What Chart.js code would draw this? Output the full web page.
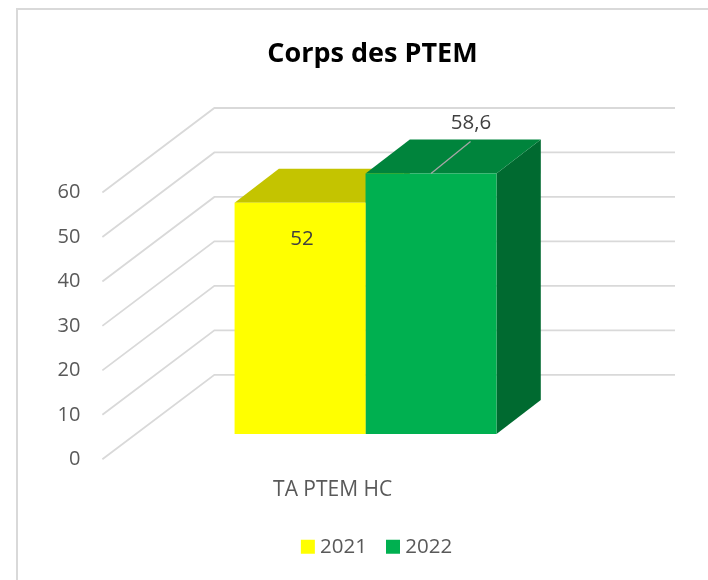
<!DOCTYPE html>
<html><head><meta charset="utf-8">
<style>html,body{margin:0;padding:0;background:#fff}#wrap{position:absolute;left:0;top:0;width:708px;height:580px}
#frame{position:absolute;left:16px;top:8px;width:700px;height:600px;border:2px solid #d9d9d9;box-sizing:border-box}
body{overflow:hidden}</style>
<script src="https://cdn.jsdelivr.net/npm/chart.js@4/dist/chart.umd.min.js"></script>
</head><body><div id="frame"></div><div id="wrap"><canvas id="c" width="708" height="580"></canvas></div>
<script>
const categories = ['TA PTEM HC'];
const series2021 = [52];
const series2022 = [58.6];
const seriesNames = ['2021', '2022'];
const yTicks = [0, 10, 20, 30, 40, 50, 60];
const FONT = '"Open Sans"';
const wallDepth = {x: 112, y: -84.5};
const barShift = {x: 32.85, y: -25.3};
const barDepth = {x: 44.3, y: -34};
const faces = [{top: '#C4C400', side: '#9C9C00'}, {top: '#00843C', side: '#006A30'}];
const fmt = v => String(v).replace('.', ',');

const poly = (ctx, pts, color) => {
  ctx.fillStyle = color; ctx.beginPath();
  pts.forEach((p, i) => i ? ctx.lineTo(p[0], p[1]) : ctx.moveTo(p[0], p[1]));
  ctx.closePath(); ctx.fill();
};

const scene = {
  id: 'scene',
  afterLayout(chart) {
    const shift = (b, d) => { b.left += d; b.right += d; };
    shift(chart.titleBlock, 73.25);
    shift(chart.legend, 79.75);
  },
  beforeDatasetsDraw(chart) {
    const {ctx, chartArea: a, scales: {y}} = chart;
    ctx.save();
    ctx.strokeStyle = '#d9d9d9'; ctx.lineWidth = 1.8;
    yTicks.forEach(t => {
      const py = y.getPixelForValue(t);
      ctx.beginPath();
      ctx.moveTo(a.left, py);
      ctx.lineTo(a.left + wallDepth.x, py + wallDepth.y);
      ctx.lineTo(a.right + wallDepth.x, py + wallDepth.y);
      ctx.stroke();
    });
    ctx.translate(barShift.x, barShift.y);
    chart.data.datasets.forEach((ds, i) => {
      const r = chart.getDatasetMeta(i).data[0];
      const L = r.x - r.width / 2, R = r.x + r.width / 2, T = r.y, B = r.base;
      const dx = barDepth.x, dy = barDepth.y;
      poly(ctx, [[R, T], [R + dx, T + dy], [R + dx, B + dy], [R, B]], faces[i].side);
      poly(ctx, [[L, T], [L + dx, T + dy], [R + dx, T + dy], [R, T]], faces[i].top);
    });
  },
  afterDatasetsDraw(chart) {
    const {ctx} = chart;
    const a = chart.getDatasetMeta(0).data[0], b = chart.getDatasetMeta(1).data[0];
    ctx.fillStyle = '#404040';
    ctx.font = '20.5px ' + FONT;
    ctx.textAlign = 'center'; ctx.textBaseline = 'middle';
    ctx.fillText(fmt(series2021[0]), a.x + 2, a.y + 36);
    ctx.strokeStyle = '#a6a6a6'; ctx.lineWidth = 1.3;
    ctx.beginPath(); ctx.moveTo(b.x, b.y); ctx.lineTo(b.x + 39.5, b.y - 32); ctx.stroke();
    ctx.fillText(fmt(series2022[0]), b.x + 40, b.y - 50);
    ctx.restore();
  }
};

new Chart(document.getElementById('c'), {
  type: 'bar',
  data: {
    labels: categories,
    datasets: [
      {label: seriesNames[0], data: series2021, backgroundColor: '#FFFF00', clip: false},
      {label: seriesNames[1], data: series2022, backgroundColor: '#00B050', clip: false}
    ]
  },
  options: {
    responsive: false, animation: false,
    layout: {padding: {left: 35.5, right: 145, top: 0, bottom: 13}},
    datasets: {bar: {categoryPercentage: 0.5686, barPercentage: 1}},
    scales: {
      x: {grid: {display: false}, border: {display: false},
          ticks: {color: '#595959', font: {family: FONT, size: 21}, padding: 10}},
      y: {min: 0, max: 60, grid: {display: false, drawTicks: false}, border: {display: false},
          afterBuildTicks(s) { s.ticks = yTicks.map(v => ({value: v})); },
          ticks: {color: '#595959', font: {family: FONT, size: 20}, padding: 22}}
    },
    plugins: {
      title: {display: true, text: 'Corps des PTEM', color: '#000000',
              font: {family: FONT, size: 27, weight: 'bold'}, padding: {top: 38, bottom: 122.1}},
      legend: {position: 'bottom',
               labels: {color: '#595959', font: {family: FONT, size: 20.5}, usePointStyle: true, pointStyle: 'rect',
                        boxWidth: 4, boxHeight: 14, padding: 24}},
      tooltip: {enabled: false}
    }
  },
  plugins: [scene]
});
</script></body></html>
